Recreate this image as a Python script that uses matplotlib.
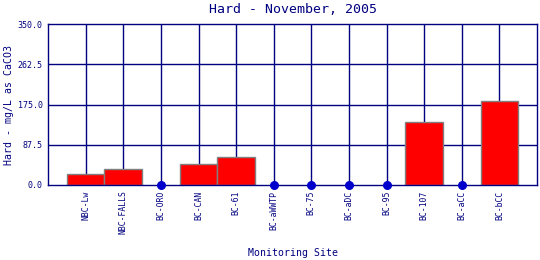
import matplotlib
matplotlib.use("Agg")
import matplotlib.pyplot as plt
import numpy as np

# Daten
sites = ["NBC-Lw", "NBC-FALLS", "BC-ORO", "BC-CAN", "BC-61", "BC-aWWTP",
         "BC-75", "BC-aDC", "BC-95", "BC-107", "BC-aCC", "BC-bCC"]
hardness = [23.0, 35.5, 0.0, 45.0, 60.0, 0.0, 0.0, 0.0, 0.0, 137.0, 0.0, 183.0]
y_ticks = [0.0, 87.5, 175.0, 262.5, 350.0]

navy = "#000080"
plt.rcParams["font.family"] = ["DejaVu Sans Mono"]

fig = plt.figure(figsize=(5.4, 2.6), dpi=100)
ax = fig.add_axes([0.089, 0.2885, 0.9055, 0.618])

x = np.arange(1, len(sites) + 1)
vals = np.array(hardness)

# Gitter
for xi in x:
    ax.axvline(xi, color=navy, linewidth=1.0, zorder=1)
for yt in y_ticks[1:-1]:
    ax.axhline(yt, color=navy, linewidth=1.0, zorder=1)

# Balken für Werte > 0, Punkte für Nullwerte
pos = vals > 0
ax.bar(x[pos], vals[pos], width=1.0, color="#ff0000", edgecolor="#808080",
       linewidth=1.0, zorder=2)
ax.scatter(x[~pos], vals[~pos], s=30, color="#0000cc", zorder=4, clip_on=False)

ax.set_xlim(0, len(sites) + 1)
ax.set_ylim(0, 350)
ax.set_xticks(x)
ax.set_xticklabels(sites, rotation=90, fontsize=5.9, color=navy)
ax.set_yticks(y_ticks)
ax.set_yticklabels(["%.1f" % v for v in y_ticks], fontsize=6.0, color=navy)
ax.tick_params(length=0, pad=4)

for sp in ax.spines.values():
    sp.set_color(navy)
    sp.set_linewidth(1.0)
ax.spines["bottom"].set_zorder(3)

ax.set_title("Hard - November, 2005", fontsize=9.5, color=navy, pad=8)
ax.set_xlabel("Monitoring Site", fontsize=7.1, color=navy, labelpad=10)

# Y-Beschriftung direkt an den linken Rand
fig.text(9 / 540, 1 - 105 / 260, "Hard - mg/L as CaCO3", rotation=90,
         ha="center", va="center", fontsize=7.1, color=navy)

fig.savefig("out.png", dpi=100)
